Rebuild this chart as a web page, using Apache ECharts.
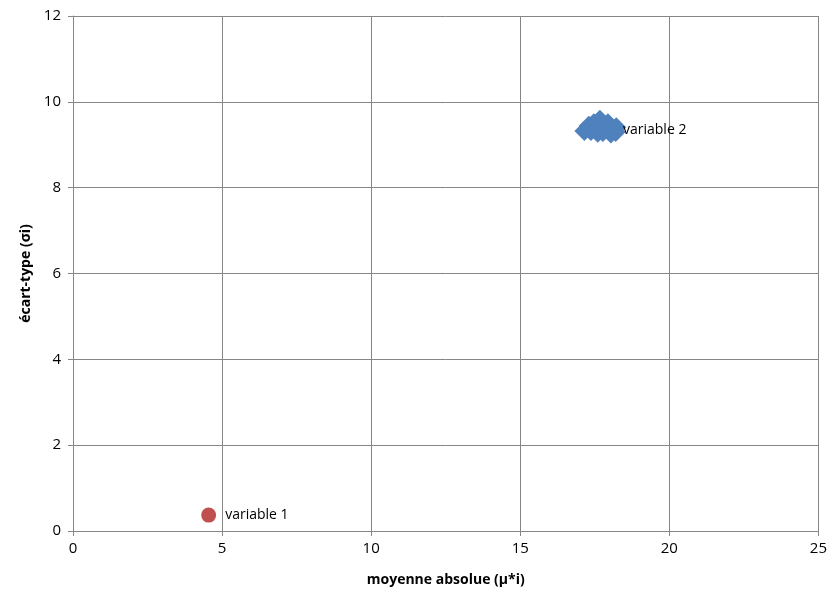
<!DOCTYPE html>
<html><head><meta charset="utf-8">
<script src="https://cdn.jsdelivr.net/npm/echarts@6/dist/echarts.min.js"></script>
<style>html,body{margin:0;padding:0;background:#fff}#c{width:830px;height:596px}</style>
</head><body><div id="c"></div>
<script>
const xTitle = 'moyenne absolue (µ*i)';
const yTitle = 'écart-type (σi)';
const var1Name = 'variable 1';
const var2Name = 'variable 2';
const var1X = [4.55];
const var1Y = [0.37];
const var2X = [17.15,17.30,17.47,17.67,17.57,17.80,17.97,18.22,18.04,17.77,17.37,17.53,17.94,18.20,17.60,17.87,18.11];
const var2Y = [9.32,9.44,9.50,9.58,9.41,9.47,9.39,9.41,9.26,9.30,9.32,9.34,9.50,9.30,9.28,9.36,9.34];
const labelIndex2 = var2X.length - 1;

const font = 'Open Sans';
const d1 = var1X.map((x,i)=>({value:[x,var1Y[i]], label:{show:i===0}}));
const d2 = var2X.map((x,i)=>({value:[x,var2Y[i]], label:{show:i===labelIndex2}}));
const chart = echarts.init(document.getElementById('c'));
chart.setOption({
  animation:false,
  grid:{left:73,right:10,top:16,bottom:65},
  xAxis:{type:'value',min:0,max:25,interval:5,
    name:xTitle,nameLocation:'middle',nameGap:42,
    nameTextStyle:{fontFamily:font,fontWeight:'bold',fontSize:14,color:'#000'},
    axisLine:{show:true,lineStyle:{color:'#868686'}},
    axisTick:{show:true,length:5,lineStyle:{color:'#868686'}},
    axisLabel:{fontFamily:font,fontSize:15,color:'#000',margin:10},
    splitLine:{show:true,lineStyle:{color:'#868686'}}},
  yAxis:{type:'value',min:0,max:12,interval:2,
    name:yTitle,nameLocation:'middle',nameGap:40,
    nameTextStyle:{fontFamily:font,fontWeight:'bold',fontSize:14,color:'#000'},
    axisLine:{show:true,lineStyle:{color:'#868686'}},
    axisTick:{show:true,length:5,lineStyle:{color:'#868686'}},
    axisLabel:{fontFamily:font,fontSize:15,color:'#000',margin:12},
    splitLine:{show:true,lineStyle:{color:'#868686'}}},
  series:[
    {name:var1Name,type:'scatter',symbol:'circle',symbolSize:15,
     itemStyle:{color:'#C0504D',opacity:1},data:d1,
     label:{position:'right',distance:9,formatter:var1Name,fontFamily:font,fontSize:14,color:'#000'}},
    {name:var2Name,type:'scatter',symbol:'diamond',symbolSize:[20,20],
     itemStyle:{color:'#4F81BD',opacity:1},data:d2,
     label:{position:'right',distance:0,formatter:var2Name,fontFamily:font,fontSize:14,color:'#000'}}
  ]
});
</script></body></html>
